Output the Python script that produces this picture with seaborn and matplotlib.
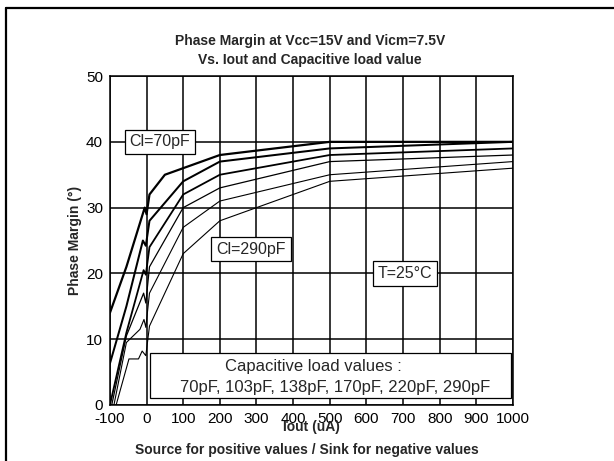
import numpy as np
import pandas as pd
import matplotlib
matplotlib.use("Agg")
import matplotlib.pyplot as plt
from matplotlib.patches import Rectangle
import seaborn as sns

sns.set_style("white")
plt.rcParams['font.family'] = ['Liberation Sans', 'DejaVu Sans']
plt.rcParams['axes.unicode_minus'] = False

# Iout (uA) / phase margin (deg), one list per load capacitance
iout_70 = [-100, -55, -5, 0, 8, 50, 100, 200, 500, 1000]
pm_70 = [14, 21, 30, 29, 32, 35, 36, 38, 40, 40]

iout_103 = [-100, -55, -10, -2, 8, 100, 200, 500, 1000]
pm_103 = [6.3, 15, 25, 24.2, 28, 34, 37, 39, 40]

iout_138 = [-100, -55, -8, -2, 8, 100, 200, 500, 1000]
pm_138 = [0, 11, 20.5, 19.8, 24, 32, 35, 38, 39]

iout_170 = [-95, -55, -8, -2, 8, 100, 200, 500, 1000]
pm_170 = [0, 10.5, 17, 15.5, 21, 30, 33, 37, 38]

iout_220 = [-89, -55, -18, -7, -2, 8, 100, 200, 500, 1000]
pm_220 = [0, 9.5, 11.5, 13, 11.8, 17, 27, 31, 35, 37]

iout_290 = [-83, -48, -22, -12, -2, 8, 100, 200, 500, 1000]
pm_290 = [0, 7, 7, 8.2, 7.5, 12, 23, 28, 34, 36]

loads = ['70pF', '103pF', '138pF', '170pF', '220pF', '290pF']
widths = [1.6, 1.45, 1.3, 0.9, 0.8, 0.8]

curves = [(iout_70, pm_70), (iout_103, pm_103), (iout_138, pm_138),
          (iout_170, pm_170), (iout_220, pm_220), (iout_290, pm_290)]

fig = plt.figure(figsize=(6.14, 4.61), dpi=100)
ax = fig.add_axes([0.179, 0.1215, 0.6565, 0.7135])

for (x, y), name, lw in zip(curves, loads, widths):
    df = pd.DataFrame({'Iout': x, 'PM': y})
    sns.lineplot(data=df, x='Iout', y='PM', ax=ax, color='black', lw=lw,
                 sort=False, estimator=None, zorder=3)

ax.set_xlim(-100, 1000)
ax.set_ylim(0, 50)
ax.set_xticks(np.arange(-100, 1001, 100))
ax.set_yticks(np.arange(0, 51, 10))
ax.grid(True, color='black', lw=1.1, zorder=1)
ax.set_axisbelow(True)
for s in ax.spines.values():
    s.set_color('black')
    s.set_linewidth(1.1)
ax.tick_params(axis='both', labelsize=11, direction='out', length=3, width=1,
               color='black', labelcolor='black', pad=2)
ax.tick_params(axis='x', length=2, pad=3)

ax.set_xlabel('Iout (uA)', fontsize=10, fontweight='bold', labelpad=-4)
ax.set_ylabel('Phase Margin (°)', fontsize=10, fontweight='bold', labelpad=3)

box = dict(boxstyle='square,pad=0.3', fc='white', ec='black', lw=0.9)
ax.text(36, 40, 'Cl=70pF', fontsize=11.5, ha='center', va='center', bbox=box, zorder=5)
ax.text(285, 23.7, 'Cl=290pF', fontsize=11.5, ha='center', va='center', bbox=box, zorder=5)
ax.text(705, 20, 'T=25°C', fontsize=11.5, ha='center', va='center', bbox=box, zorder=5)

# legend-like box for the load values
ax.add_patch(Rectangle((9, 1.06), 985, 6.84, fc='white', ec='black', lw=0.9, zorder=5))
ax.text(454, 5.8, 'Capacitive load values :', fontsize=12, ha='center', va='center', zorder=6)
ax.text(514, 2.7, '70pF, 103pF, 138pF, 170pF, 220pF, 290pF', fontsize=12,
        ha='center', va='center', zorder=6)

fig.text(0.505, 0.891, 'Phase Margin at Vcc=15V and Vicm=7.5V\nVs. Iout and Capacitive load value',
         ha='center', va='center', fontsize=10, fontweight='bold', linespacing=1.45)
fig.text(0.5, 0.024, 'Source for positive values / Sink for negative values',
         ha='center', va='center', fontsize=10, fontweight='bold')

# outer frame (open on right and bottom)
fig.add_artist(plt.Line2D([0.01, 0.01], [0.0, 0.983], color='black', lw=1.6, transform=fig.transFigure))
fig.add_artist(plt.Line2D([0.01, 1.0], [0.983, 0.983], color='black', lw=1.6, transform=fig.transFigure))

fig.savefig('out.png', dpi=100)
